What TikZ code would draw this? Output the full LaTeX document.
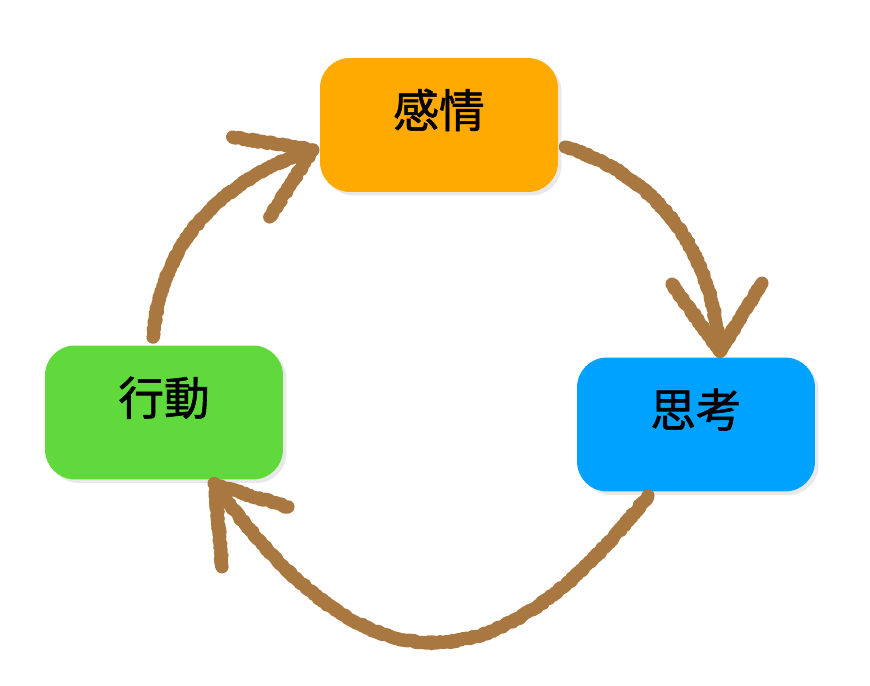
\documentclass[tikz,border=0pt]{standalone}
\usepackage{fontspec}
\newfontfamily\cjk[FakeBold=1.3]{Noto Sans CJK JP}
\usepackage{tikz}
\usetikzlibrary{shadows}
\usetikzlibrary{decorations.pathmorphing}
\definecolor{emoorange}{HTML}{FFAA00}
\definecolor{thkblue}{HTML}{00A2FF}
\definecolor{actgreen}{HTML}{5FD93B}
\definecolor{chalkbrown}{HTML}{A97840}
\tikzset{
    box/.style={rounded corners=0.6cm, minimum width=4.76cm, minimum height=2.68cm,
        font=\cjk\fontsize{26}{30}\selectfont, text height=0.28em, text depth=0pt,
        drop shadow={opacity=0.18, shadow xshift=2pt, shadow yshift=-2pt}},
    chalk/.style={draw=chalkbrown, line width=7.5pt, line cap=round, line join=round,
        decorate, decoration={random steps, segment length=1pt, amplitude=0.6pt}}
}

\begin{document}
\begin{tikzpicture}[x=0.02cm, y=0.02cm]
    \useasboundingbox(0, 0)rectangle(870, 686);
    \node[box, fill=emoorange](emotion)at(439, 561){感情};
    \node[box, fill=thkblue](thought)at(696, 261.5){思考};
    \node[box, fill=actgreen](action)at(164, 273.5){行動};
    % 感情 -> 思考
    \coordinate(tipA)at([shift={(24, 6)}]thought.north);
    \draw[chalk]([shift={(7, -22)}]emotion.east)to[out=-18, in=95](tipA);
    \draw[chalk]([shift={(-48, 67)}]tipA)--(tipA)--([shift={(42, 68)}]tipA);
    % 思考 -> 行動
    \coordinate(tipB)at([shift={(51, -5)}]action.south);
    \draw[chalk]([shift={(-48, -4)}]thought.south)to[out=-128, in=-54, looseness=1.5](tipB);
    \draw[chalk]([shift={(7, -82)}]tipB)--(tipB)--([shift={(73, -22)}]tipB);
    % 行動 -> 感情
    \coordinate(tipC)at([shift={(-7, -25)}]emotion.west);
    \draw[chalk]([shift={(-11, 8)}]action.north)to[out=85, in=198](tipC);
    \draw[chalk]([shift={(-80, 13)}]tipC)--(tipC)--([shift={(-43, -67)}]tipC);
\end{tikzpicture}
\end{document}
